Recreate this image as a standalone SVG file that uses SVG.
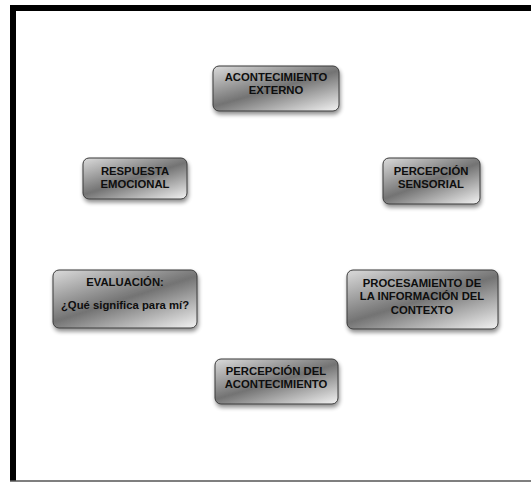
<svg xmlns="http://www.w3.org/2000/svg" width="531" height="483" viewBox="0 0 531 483">
  <defs>
    <linearGradient id="metal" x1="0.1" y1="0" x2="0.9" y2="1">
      <stop offset="0" stop-color="#d2d2d2"/>
      <stop offset="0.5" stop-color="#737373"/>
      <stop offset="1" stop-color="#e8e8e8"/>
    </linearGradient>
    <filter id="shadow" x="-10%" y="-10%" width="120%" height="140%">
      <feGaussianBlur in="SourceAlpha" stdDeviation="2"/>
      <feOffset dx="1" dy="3" result="b"/>
      <feComponentTransfer><feFuncA type="linear" slope="0.45"/></feComponentTransfer>
      <feMerge><feMergeNode/><feMergeNode in="SourceGraphic"/></feMerge>
    </filter>
  </defs>
  <style>
    .box { fill: url(#metal); stroke: #3a3a3a; stroke-width: 1; filter: url(#shadow); }
    .lbl { font-family: "Liberation Sans", Arial, sans-serif; font-weight: bold; font-size: 11.3px; fill: #0e0e0e; text-anchor: middle; }
  </style>

  <rect width="531" height="483" fill="#ffffff"/>
  <!-- frame -->
  <path d="M13 481 V8 H540" fill="none" stroke="#000" stroke-width="6"/>
  <line x1="10" y1="481" x2="531" y2="481" stroke="#555" stroke-width="1.5"/>

  <g id="connectors"></g>

  <g id="acontecimiento-externo">
    <rect class="box" x="213" y="66" width="126" height="45" rx="6"/>
    <text class="lbl" x="276" y="81">ACONTECIMIENTO</text>
    <text class="lbl" x="276" y="94">EXTERNO</text>
  </g>

  <g id="percepcion-sensorial">
    <rect class="box" x="383" y="158" width="97" height="46" rx="6"/>
    <text class="lbl" x="431" y="175">PERCEPCIÓN</text>
    <text class="lbl" x="431" y="188">SENSORIAL</text>
  </g>

  <g id="procesamiento">
    <rect class="box" x="347" y="270" width="151" height="59" rx="6"/>
    <text class="lbl" x="422" y="287">PROCESAMIENTO DE</text>
    <text class="lbl" x="422" y="300">LA INFORMACIÓN DEL</text>
    <text class="lbl" x="422" y="314">CONTEXTO</text>
  </g>

  <g id="percepcion-acontecimiento">
    <rect class="box" x="215" y="359" width="123" height="45" rx="6"/>
    <text class="lbl" x="276" y="375">PERCEPCIÓN DEL</text>
    <text class="lbl" x="276" y="388">ACONTECIMIENTO</text>
  </g>

  <g id="evaluacion">
    <rect class="box" x="53" y="270" width="144" height="58" rx="6"/>
    <text class="lbl" x="125" y="286">EVALUACIÓN:</text>
    <text class="lbl" x="125" y="309">¿Qué significa para mí?</text>
  </g>

  <g id="respuesta-emocional">
    <rect class="box" x="83" y="158" width="104" height="41" rx="6"/>
    <text class="lbl" x="135" y="175">RESPUESTA</text>
    <text class="lbl" x="135" y="188">EMOCIONAL</text>
  </g>
</svg>
